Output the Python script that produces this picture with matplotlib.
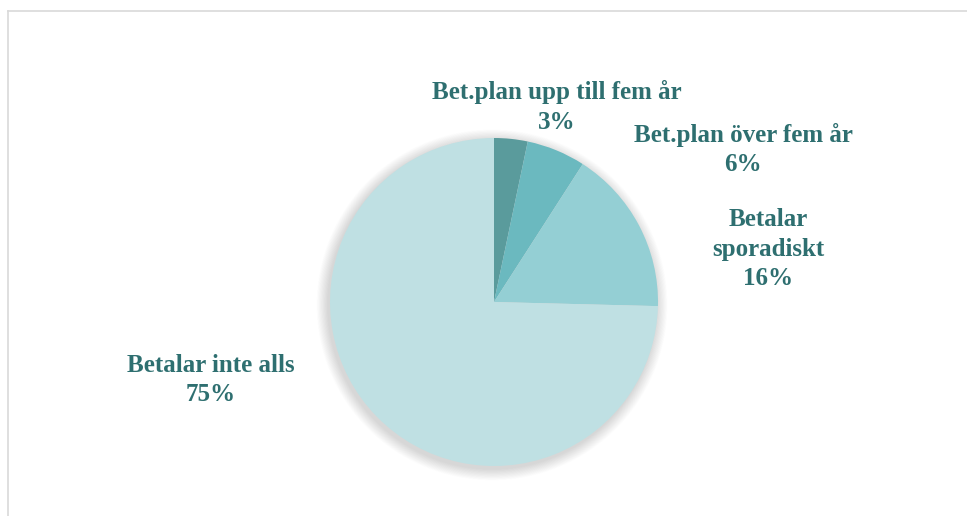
import numpy as np
import matplotlib
matplotlib.use('Agg')
import matplotlib.pyplot as plt
from matplotlib.patches import Circle

# data
categories = ['Bet.plan upp till fem år', 'Bet.plan över fem år',
              'Betalar\nsporadiskt', 'Betalar inte alls']
values = [3.3, 5.8, 16.3, 74.6]
colors = ['#5a9b9c', '#6bb9bf', '#94cfd4', '#bfe0e3']
text_color = '#2e6f70'

W, H = 967, 516
fig = plt.figure(figsize=(W / 100, H / 100), dpi=100)

# pie centre / radius in pixels
cx, cy, r = 494, 302, 164
ax = fig.add_axes([(cx - r) / W, (H - cy - r) / H, 2 * r / W, 2 * r / H])

# soft shadow behind the pie
n = 20
for i in range(n):
    ax.add_patch(Circle((-0.012, -0.018), 1.0 + 0.0035 * (n - i),
                        color='black', alpha=0.007, lw=0, zorder=0,
                        clip_on=False))

wedges, _ = ax.pie(values, colors=colors, startangle=90, counterclock=False,
                   radius=1.0, wedgeprops=dict(linewidth=0))
for w in wedges:
    w.set_zorder(2)

ax.set_xlim(-1, 1)
ax.set_ylim(-1, 1)
ax.set_aspect('equal')
ax.axis('off')

# label positions in pie units
label_pos = [(0.384, 1.189), (1.518, 0.930), (1.671, 0.323), (-1.726, -0.476)]
for cat, v, (lx, ly) in zip(categories, values, label_pos):
    ax.text(lx, ly, f'{cat}\n{round(v)}%', ha='center', va='center',
            fontsize=18, fontweight='bold', family='Liberation Serif',
            color=text_color, linespacing=1.38, clip_on=False)

# light frame, cut off at right and bottom
frame = dict(color='#d9d9d9', lw=1.2, transform=fig.transFigure)
fig.add_artist(plt.Line2D([8 / W, 8 / W], [0, 1 - 11 / H], **frame))
fig.add_artist(plt.Line2D([8 / W, 1], [1 - 11 / H, 1 - 11 / H], **frame))

fig.savefig('out.png', dpi=100)
